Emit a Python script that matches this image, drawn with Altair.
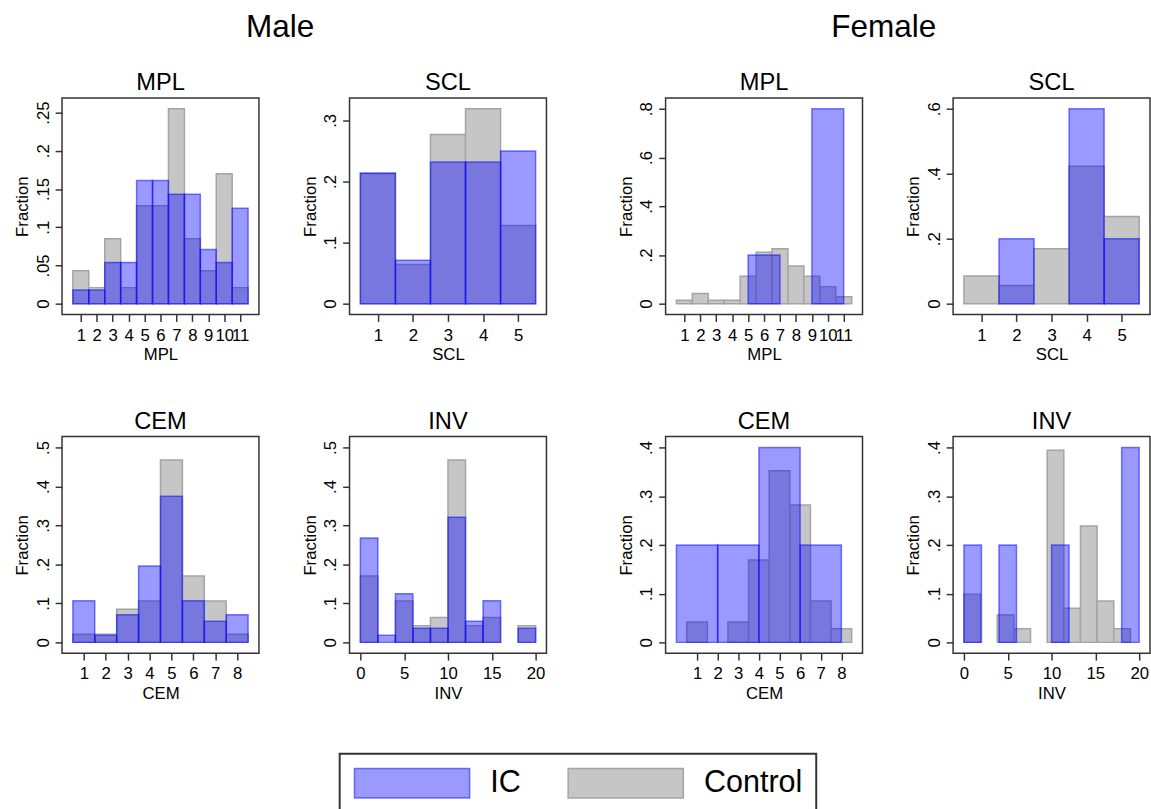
import altair as alt
import pandas as pd

FONT = "Liberation Sans"
GROUPS = ["IC", "Control"]
FILLS = ["rgba(0,0,255,0.4)", "#c6c6c6"]
STROKES = ["rgba(0,0,255,0.5)", "#a4a4a4"]

# ---- Male (IC n=56, Control n=47), fraction per bin ----
M_MPL_IC = [0.018, 0.018, 0.054, 0.054, 0.161, 0.161, 0.143, 0.143, 0.071, 0.054, 0.125]
M_MPL_CTRL = [0.043, 0.021, 0.085, 0.021, 0.128, 0.128, 0.255, 0.085, 0.043, 0.170, 0.021]
M_SCL_IC = [0.214, 0.071, 0.232, 0.232, 0.250]
M_SCL_CTRL = [0.213, 0.064, 0.277, 0.319, 0.128]
M_CEM_IC = [0.107, 0.018, 0.071, 0.196, 0.375, 0.107, 0.054, 0.071]
M_CEM_CTRL = [0.021, 0.021, 0.085, 0.106, 0.468, 0.170, 0.106, 0.021]
M_INV_IC = [0.268, 0.018, 0.125, 0.036, 0.036, 0.321, 0.054, 0.107, 0.0, 0.036]
M_INV_CTRL = [0.170, 0.0, 0.106, 0.043, 0.064, 0.468, 0.043, 0.064, 0.0, 0.043]

# ---- Female (IC n=5, Control n=71) ----
F_MPL_IC = [0.2, 0.0, 0.8]
F_MPL_CTRL = [0.014, 0.042, 0.014, 0.014, 0.113, 0.211, 0.225, 0.155, 0.113, 0.070, 0.028]
F_SCL_IC = [0.0, 0.2, 0.0, 0.6, 0.2]
F_SCL_CTRL = [0.085, 0.056, 0.169, 0.423, 0.268]
F_CEM_IC = [0.2, 0.2, 0.4, 0.2]
F_CEM_CTRL = [0.042, 0.0, 0.042, 0.169, 0.352, 0.282, 0.085, 0.028]
F_INV_IC = [0.2, 0.0, 0.2, 0.0, 0.0, 0.2, 0.0, 0.0, 0.0, 0.4]
F_INV_CTRL = [0.099, 0.0, 0.056, 0.028, 0.0, 0.394, 0.070, 0.239, 0.085, 0.028]

# bin (start, width) of each histogram
BINS_UNIT = (0.5, 1)
BINS_INV = (0, 2)
BINS_F_MPL_IC = (5, 2)
BINS_F_CEM_IC = (0, 2)
BINS_F_INV_CTRL = (0, 1.9)

# axis ticks
X_MPL = list(range(1, 12))
X_SCL = list(range(1, 6))
X_CEM = list(range(1, 9))
X_INV = [0, 5, 10, 15, 20]
Y_M_MPL = [0, 0.05, 0.1, 0.15, 0.2, 0.25]
Y_M_SCL = [0, 0.1, 0.2, 0.3]
Y_M_CEM = [0, 0.1, 0.2, 0.3, 0.4, 0.5]
Y_M_INV = [0, 0.1, 0.2, 0.3, 0.4, 0.5]
Y_F_MPL = [0, 0.2, 0.4, 0.6, 0.8]
Y_F_SCL = [0, 0.2, 0.4, 0.6]
Y_F_CEM = [0, 0.1, 0.2, 0.3, 0.4]
Y_F_INV = [0, 0.1, 0.2, 0.3, 0.4]

PAD_L, PAD_T = 13, 5

LEG = alt.Legend(
    title=None, orient="none", legendX=282, legendY=666,
    direction="horizontal", symbolType="M-1,-1H6.8V1H-1Z", symbolSize=900,
    symbolStrokeWidth=1.5, labelFontSize=31, labelFont=FONT, labelColor="black",
    labelOffset=107, columnPadding=45, padding=14, strokeColor="#333333",
    labelBaseline="middle",
)


def panel(name, ic, ic_bins, ctrl, ctrl_bins, xticks, yticks):
    rows = []
    for grp, vals, (start, w) in (("Control", ctrl, ctrl_bins), ("IC", ic, ic_bins)):
        for i, v in enumerate(vals):
            if v > 0:
                rows.append({"group": grp, "x0": start + i * w, "x1": start + (i + 1) * w,
                             "v": v, "base": 0.0})
    df = pd.DataFrame(rows)
    xlo = float(min(df.x0.min(), xticks[0]))
    xhi = float(max(df.x1.max(), xticks[-1]))
    yhi = float(max(df.v.max(), yticks[-1]))
    return alt.Chart(df, title=alt.TitleParams(name, fontSize=24, fontWeight="normal",
                                                anchor="middle", offset=3)).mark_rect(
        strokeWidth=1.5
    ).encode(
        x=alt.X("x0:Q", scale=alt.Scale(domain=[xlo, xhi], padding=11, nice=False, zero=False),
                axis=alt.Axis(values=xticks, title=name, format="d", labelPadding=6, titlePadding=4)),
        x2="x1:Q",
        y=alt.Y("v:Q", scale=alt.Scale(domain=[0, yhi], padding=11, nice=False, zero=False),
                axis=alt.Axis(values=yticks, title="Fraction", labelAngle=270,
                              labelAlign="center", labelBaseline="bottom",
                              labelExpr="datum.value == 0 ? '0' : substring(format(datum.value, '.2~f'), 1)")),
        y2="base:Q",
        fill=alt.Fill("group:N", scale=alt.Scale(domain=GROUPS, range=FILLS), legend=LEG),
        stroke=alt.Stroke("group:N", scale=alt.Scale(domain=GROUPS, range=STROKES), legend=LEG),
    ).properties(width=200, height=220)


male = alt.vconcat(
    alt.hconcat(panel("MPL", M_MPL_IC, BINS_UNIT, M_MPL_CTRL, BINS_UNIT, X_MPL, Y_M_MPL),
                panel("SCL", M_SCL_IC, BINS_UNIT, M_SCL_CTRL, BINS_UNIT, X_SCL, Y_M_SCL), spacing=41),
    alt.hconcat(panel("CEM", M_CEM_IC, BINS_UNIT, M_CEM_CTRL, BINS_UNIT, X_CEM, Y_M_CEM),
                panel("INV", M_INV_IC, BINS_INV, M_INV_CTRL, BINS_INV, X_INV, Y_M_INV), spacing=41),
    spacing=46,
).properties(title=alt.TitleParams("Male", fontSize=32, fontWeight="normal", anchor="middle", offset=27))

female = alt.vconcat(
    alt.hconcat(panel("MPL", F_MPL_IC, BINS_F_MPL_IC, F_MPL_CTRL, BINS_UNIT, X_MPL, Y_F_MPL),
                panel("SCL", F_SCL_IC, BINS_UNIT, F_SCL_CTRL, BINS_UNIT, X_SCL, Y_F_SCL), spacing=41),
    alt.hconcat(panel("CEM", F_CEM_IC, BINS_F_CEM_IC, F_CEM_CTRL, BINS_UNIT, X_CEM, Y_F_CEM),
                panel("INV", F_INV_IC, BINS_INV, F_INV_CTRL, BINS_F_INV_CTRL, X_INV, Y_F_INV), spacing=41),
    spacing=46,
).properties(title=alt.TitleParams("Female", fontSize=32, fontWeight="normal", anchor="middle", offset=27))

chart = alt.hconcat(male, female, spacing=70).properties(
    padding={"left": PAD_L, "top": PAD_T, "right": 0, "bottom": 0},
    background="white",
).configure(font=FONT).configure_view(
    stroke="#333333", strokeWidth=1.5
).configure_axis(
    domain=False, grid=False, tickSize=7, tickColor="#333333", tickWidth=1.5,
    labelFontSize=17, titleFontSize=17, labelColor="black", titleColor="black",
    titleFontWeight="normal", labelPadding=3, titlePadding=3, labelFont=FONT, titleFont=FONT,
    labelOverlap=False, labelFlush=False,
).configure_legend(strokeWidth=2).configure_title(font=FONT, color="black", fontWeight="normal")

chart.save("out.html", embed_options={"renderer": "svg", "actions": False})
